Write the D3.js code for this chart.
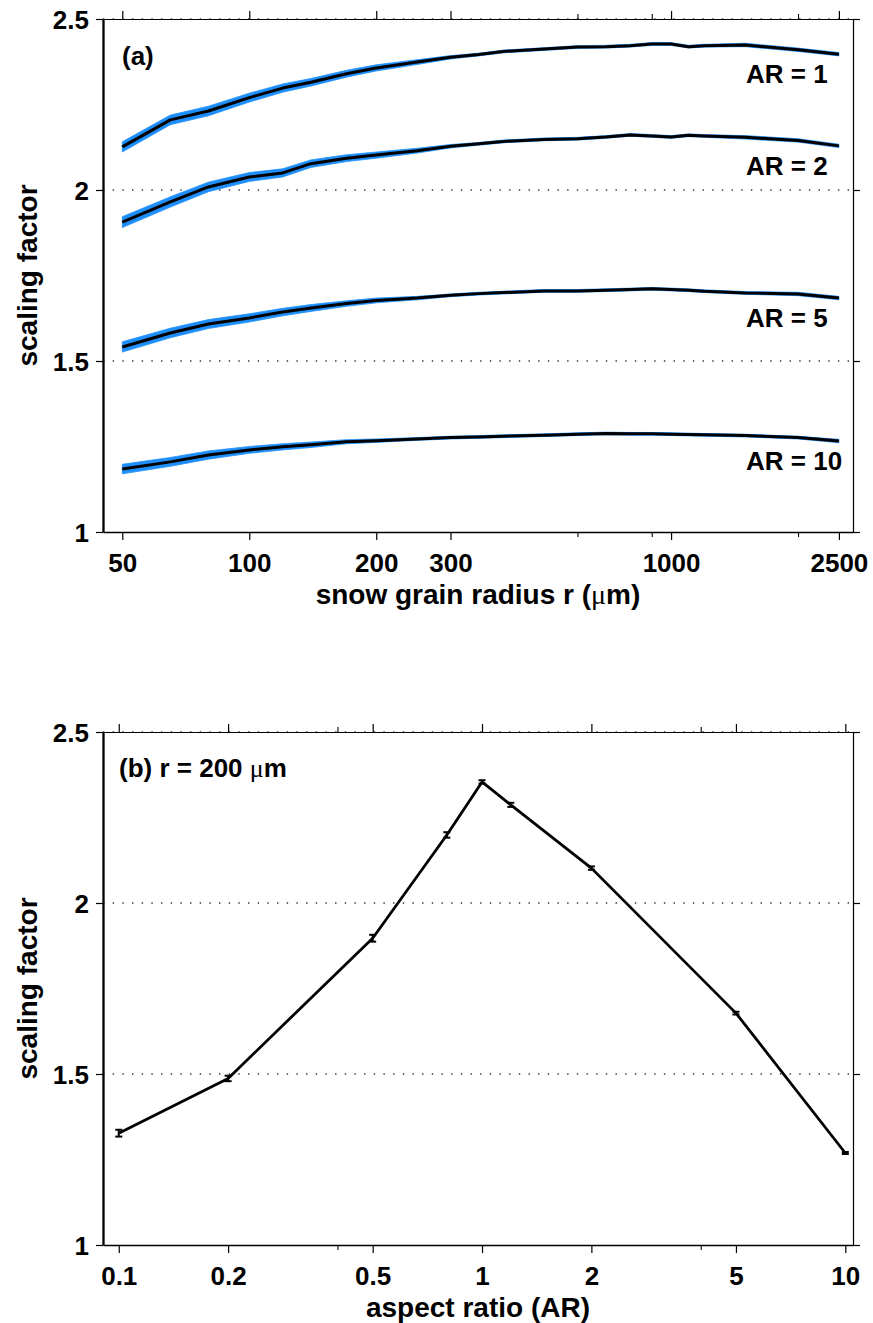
<!DOCTYPE html>
<html>
<head>
<meta charset="utf-8">
<script src="https://cdn.jsdelivr.net/npm/d3@7"></script>
<style>
  html, body { margin: 0; padding: 0; background: #fff; }
  svg { display: block; }
  text { font-family: "Liberation Sans", Arial, Helvetica, sans-serif; font-weight: bold; fill: #000; }
</style>
</head>
<body>
<svg id="fig" width="873" height="1323"></svg>
<script>
// ---- panel (a): scaling factor vs snow grain radius, one curve per aspect ratio ----
const radius = [50, 65, 80, 100, 120, 140, 170, 200, 250, 300, 350, 400, 500, 600, 700, 800, 900, 1000, 1100, 1200, 1500, 2000, 2500];

const sfAR1  = [2.126, 2.205, 2.231, 2.270, 2.298, 2.315, 2.340, 2.357, 2.374, 2.388, 2.396, 2.405, 2.412, 2.418, 2.419, 2.422, 2.427, 2.427, 2.419, 2.422, 2.424, 2.410, 2.397];
const sfAR2  = [1.906, 1.965, 2.009, 2.038, 2.050, 2.077, 2.093, 2.102, 2.115, 2.128, 2.135, 2.142, 2.148, 2.150, 2.155, 2.161, 2.158, 2.155, 2.160, 2.158, 2.154, 2.145, 2.129];
const sfAR5  = [1.541, 1.582, 1.608, 1.626, 1.643, 1.655, 1.668, 1.677, 1.684, 1.692, 1.697, 1.700, 1.705, 1.705, 1.707, 1.709, 1.711, 1.709, 1.707, 1.704, 1.699, 1.696, 1.684];
const sfAR10 = [1.184, 1.205, 1.225, 1.240, 1.249, 1.255, 1.264, 1.267, 1.272, 1.276, 1.278, 1.280, 1.283, 1.286, 1.288, 1.287, 1.287, 1.286, 1.285, 1.284, 1.282, 1.276, 1.266];

// half-width of the spread around each curve
const spreadAR1  = [0.015, 0.014, 0.014, 0.013, 0.012, 0.011, 0.010, 0.009, 0.007, 0.005, 0.004, 0.004, 0.004, 0.004, 0.004, 0.004, 0.004, 0.004, 0.004, 0.004, 0.005, 0.005, 0.005];
const spreadAR2  = [0.016, 0.015, 0.014, 0.013, 0.012, 0.011, 0.010, 0.009, 0.007, 0.005, 0.004, 0.004, 0.004, 0.004, 0.004, 0.004, 0.004, 0.004, 0.004, 0.004, 0.005, 0.005, 0.005];
const spreadAR5  = [0.015, 0.014, 0.013, 0.012, 0.011, 0.010, 0.008, 0.007, 0.005, 0.004, 0.004, 0.004, 0.004, 0.004, 0.004, 0.004, 0.004, 0.004, 0.004, 0.004, 0.004, 0.005, 0.005];
const spreadAR10 = [0.014, 0.013, 0.012, 0.010, 0.009, 0.008, 0.006, 0.005, 0.004, 0.004, 0.004, 0.004, 0.004, 0.004, 0.004, 0.004, 0.004, 0.004, 0.004, 0.004, 0.004, 0.004, 0.005];

const curveLabels = ["AR = 1", "AR = 2", "AR = 5", "AR = 10"];

// ---- panel (b): scaling factor vs aspect ratio at r = 200 µm ----
const aspectRatio = [0.1, 0.2, 0.5, 0.8, 1, 1.2, 2, 5, 10];
const sfR200      = [1.327, 1.487, 1.897, 2.199, 2.354, 2.287, 2.102, 1.678, 1.269];
const sfR200Err   = [0.010, 0.008, 0.010, 0.008, 0.005, 0.006, 0.005, 0.004, 0.003];

// ---- ticks ----
const yTicks = [1, 1.5, 2, 2.5];
const yGrid = [1.5, 2, 2.5];
const radiusTicks = [50, 100, 200, 300, 1000, 2500];
const radiusMinorTicks = [600, 900, 2000];
const arTicks = [0.1, 0.2, 0.5, 1, 2, 5, 10];
const arMinorTicks = [0.4, 4];

const BLUE = "#1e8ffa";
const svg = d3.select("#fig");
svg.append("rect").attr("width", 873).attr("height", 1323).attr("fill", "#fff");

const L = 103, R = 853;

function drawFrame(g, x, y, top, bottom, majors, minors, xTitle) {
  // dotted horizontal grid
  g.append("g").selectAll("line").data(yGrid).join("line")
    .attr("x1", L).attr("x2", R)
    .attr("y1", d => y(d)).attr("y2", d => y(d))
    .attr("stroke", "#333").attr("stroke-width", 1.4)
    .attr("stroke-dasharray", "1.4 8.27");

  const styleAxis = (sel, domainW) => {
    sel.select(".domain").attr("stroke", "#000").attr("stroke-width", domainW);
    sel.selectAll(".tick line").attr("stroke", "#000").attr("stroke-width", 1.2);
  };

  // bottom
  const gb = g.append("g").attr("transform", `translate(0,${bottom})`)
    .call(d3.axisBottom(x).tickValues(majors).tickSize(8).tickSizeOuter(0).tickFormat(d => String(d)));
  styleAxis(gb, 1.4);
  gb.selectAll("text").attr("y", 40).attr("dy", null)
    .attr("font-size", 26).attr("font-family", null).attr("fill", "#000");
  g.append("g").attr("transform", `translate(0,${bottom})`)
    .call(d3.axisBottom(x).tickValues(minors).tickSize(5).tickSizeOuter(0).tickFormat(""))
    .call(s => { s.select(".domain").remove(); s.selectAll(".tick line").attr("stroke", "#000").attr("stroke-width", 1.1); });

  // top
  const gt = g.append("g").attr("transform", `translate(0,${top})`)
    .call(d3.axisTop(x).tickValues(majors).tickSize(8).tickSizeOuter(0).tickFormat(""));
  styleAxis(gt, 1.1);
  g.append("g").attr("transform", `translate(0,${top})`)
    .call(d3.axisTop(x).tickValues(minors).tickSize(5).tickSizeOuter(0).tickFormat(""))
    .call(s => { s.select(".domain").remove(); s.selectAll(".tick line").attr("stroke", "#000").attr("stroke-width", 1.1); });

  // right
  const gr = g.append("g").attr("transform", `translate(${R},0)`)
    .call(d3.axisRight(y).tickValues(yTicks).tickSize(7).tickSizeOuter(0).tickFormat(""));
  styleAxis(gr, 1.2);

  // left
  const gl = g.append("g").attr("transform", `translate(${L},0)`)
    .call(d3.axisLeft(y).tickValues(yTicks).tickSize(7).tickSizeOuter(0).tickFormat(d => String(d)));
  styleAxis(gl, 2.3);
  gl.selectAll("text").attr("x", -14).attr("dy", "0.36em")
    .attr("font-size", 26).attr("font-family", null).attr("fill", "#000");

  // axis titles
  const t = g.append("text").attr("x", (L + R) / 2).attr("y", bottom + 72)
    .attr("text-anchor", "middle").attr("font-size", 28);
  xTitle(t);
  g.append("text")
    .attr("transform", `translate(37,${(top + bottom) / 2}) rotate(-90)`)
    .attr("text-anchor", "middle").attr("font-size", 28)
    .text("scaling factor");
}

const mu = sel => sel.append("tspan")
  .attr("font-family", "'Liberation Serif', 'DejaVu Serif', serif")
  .attr("font-weight", "normal").text("\u03bc");

// ================= panel (a) =================
{
  const top = 19, bottom = 532;
  const x = d3.scaleLog().domain([45, 2700]).range([L, R]);
  const y = d3.scaleLinear().domain([1, 2.5]).range([bottom, top]);
  const g = svg.append("g");

  drawFrame(g, x, y, top, bottom, radiusTicks, radiusMinorTicks, t => {
    t.append("tspan").text("snow grain radius r (");
    mu(t);
    t.append("tspan").text("m)");
  });

  const series = [
    { v: sfAR1, s: spreadAR1 },
    { v: sfAR2, s: spreadAR2 },
    { v: sfAR5, s: spreadAR5 },
    { v: sfAR10, s: spreadAR10 }
  ];

  const area = d3.area()
    .x((d, i) => x(radius[i]))
    .y0(d => y(d.v - d.s))
    .y1(d => y(d.v + d.s));
  const line = d3.line().x((d, i) => x(radius[i])).y(d => y(d));

  series.forEach((ser, k) => {
    const pts = ser.v.map((v, i) => ({ v, s: ser.s[i] }));
    g.append("path").attr("d", area(pts)).attr("fill", BLUE).attr("stroke", BLUE).attr("stroke-width", 0.8);
    g.append("path").attr("d", line(ser.v)).attr("fill", "none")
      .attr("stroke", "#000").attr("stroke-width", 3)
      .attr("stroke-linejoin", "round").attr("stroke-linecap", "butt");
    const last = ser.v[ser.v.length - 1];
    g.append("text").attr("x", 746).attr("y", y(last) + 29)
      .attr("font-size", 26).text(curveLabels[k]);
  });

  g.append("text").attr("x", 122).attr("y", 65).attr("font-size", 26).text("(a)");
}

// ================= panel (b) =================
{
  const top = 732, bottom = 1245;
  const x = d3.scaleLog().domain([0.0905, 10.5]).range([L, R]);
  const y = d3.scaleLinear().domain([1, 2.5]).range([bottom, top]);
  const g = svg.append("g");

  drawFrame(g, x, y, top, bottom, arTicks, arMinorTicks, t => t.text("aspect ratio (AR)"));

  const line = d3.line().x((d, i) => x(aspectRatio[i])).y(d => y(d));
  g.append("path").attr("d", line(sfR200)).attr("fill", "none")
    .attr("stroke", "#000").attr("stroke-width", 2.8).attr("stroke-linejoin", "round");

  const eb = g.append("g").attr("stroke", "#000").attr("stroke-width", 2);
  aspectRatio.forEach((a, i) => {
    const cx = x(a), y0 = y(sfR200[i] - sfR200Err[i]), y1 = y(sfR200[i] + sfR200Err[i]);
    eb.append("line").attr("x1", cx).attr("x2", cx).attr("y1", y0).attr("y2", y1);
    eb.append("line").attr("x1", cx - 3.5).attr("x2", cx + 3.5).attr("y1", y0).attr("y2", y0);
    eb.append("line").attr("x1", cx - 3.5).attr("x2", cx + 3.5).attr("y1", y1).attr("y2", y1);
  });

  const t = g.append("text").attr("x", 119).attr("y", 777).attr("font-size", 26);
  t.append("tspan").text("(b) r = 200 ");
  mu(t);
  t.append("tspan").text("m");
}
</script>
</body>
</html>
